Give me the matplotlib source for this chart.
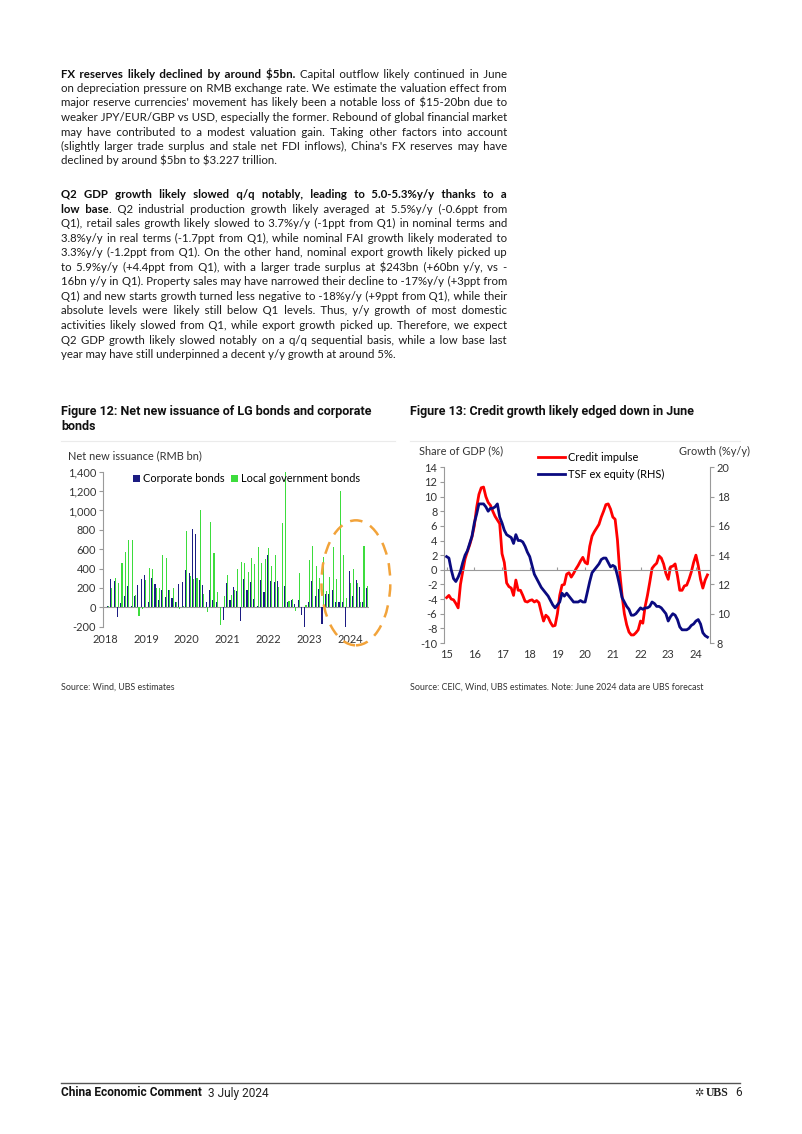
import numpy as np
import matplotlib
matplotlib.use('Agg')
import matplotlib.pyplot as plt
from matplotlib.patches import Ellipse
from matplotlib.ticker import FuncFormatter
from matplotlib.font_manager import FontProperties

plt.rcParams['axes.unicode_minus'] = False

W, H = 802, 1134

# Figure 12: net new issuance, RMB bn, monthly Jan 2018 - May 2024
corporate_bonds = [17, 288, 271, -98, 47, 115, 220, 17, 112, 227, 288, 335,
                   50, 300, 240, 80, 180, 110, 180, 100, 60, 240, 260, 390,
                   350, 810, 760, 280, 230, 50, 180, 80, 50, 0, -130, 250,
                   80, 210, 170, -140, 290, 180, 260, 90, 10, 280, 160, 540,
                   270, 260, 270, 0, 220, 60, 80, 30, 80, -80, -210, 60,
                   270, 120, 190, -170, 140, 140, 180, 60, 60, 60, -210, 380,
                   120, 280, 210, 60, 200]
lg_bonds = [10, 195, 300, 255, 460, 575, 695, 700, 130, -85, -20, 280,
            405, 395, 200, 200, 540, 510, 180, 200, 50, -20, 10, 790,
            320, 290, 300, 1000, 140, -50, 880, 560, 160, -180, 120, 330,
            130, 180, 400, 470, 460, 360, 510, 450, 620, 460, 500, 610,
            430, 540, 210, 870, 1400, 70, 90, -40, 350, 0, 20, 490,
            630, 430, 300, 520, 170, 310, 620, 290, 1200, 540, 100, 250,
            400, 250, 50, 630, 220]
bond_years = ['2018', '2019', '2020', '2021', '2022', '2023', '2024']

# Figure 13: monthly Jan 2015 - Jun 2024
credit_impulse = [-3.8, -3.5, -4.0, -4.1, -4.6, -5.2, -2.0, -0.2, 1.5, 2.5, 3.4, 4.5,
                  6.0, 8.5, 10.3, 11.2, 11.3, 10.0, 9.2, 8.8, 8.0, 7.3, 6.8, 6.3,
                  2.2, 1.0, -1.8, -2.3, -2.5, -3.5, -1.4, -2.8, -2.8, -3.5, -4.3, -4.4,
                  -4.2, -4.1, -4.4, -4.2, -4.5, -5.8, -7.0, -6.2, -6.5, -7.2, -7.7, -7.6,
                  -6.0, -3.5, -2.1, -2.0, -0.6, -0.4, -1.0, -0.5, 0.1, 0.6, 1.2, 1.7,
                  1.0, 0.8, 3.2, 4.6, 5.2, 5.7, 6.2, 7.2, 8.0, 8.9, 9.0, 8.3,
                  7.2, 6.9, 4.1, -0.3, -3.5, -6.0, -7.5, -8.5, -8.9, -8.9, -8.6, -8.2,
                  -7.0, -7.3, -5.0, -3.5, -1.7, 0.2, 0.6, 0.9, 1.9, 1.6, 0.8, -0.5,
                  -1.3, 0.4, 0.5, 0.8, -0.8, -2.8, -2.8, -2.2, -2.1, -1.3, -0.3, 1.0,
                  2.0, 0.6, -1.3, -2.5, -1.4, -0.7]
tsf_ex_equity = [13.9, 13.8, 13.0, 12.4, 12.2, 12.5, 12.9, 13.5, 14.0, 14.3, 14.8, 15.3,
                 16.2, 16.8, 17.5, 17.5, 17.5, 17.3, 17.0, 17.2, 17.2, 17.3, 17.5, 16.6,
                 16.2, 15.7, 15.4, 15.3, 15.2, 14.8, 15.4, 15.0, 15.0, 14.9, 14.6, 14.2,
                 13.9, 13.3, 12.7, 12.4, 12.1, 11.8, 11.6, 11.4, 11.2, 10.9, 10.6, 10.4,
                 10.6, 10.8, 11.4, 11.2, 11.4, 11.2, 11.0, 10.8, 10.8, 10.8, 10.9, 10.8,
                 10.8, 11.5, 12.2, 12.8, 13.0, 13.2, 13.4, 13.7, 13.8, 13.8, 13.5, 13.2,
                 13.3, 13.2, 12.6, 11.9, 11.1, 10.8, 10.5, 10.3, 9.9, 9.9, 10.0, 10.2,
                 10.4, 10.3, 10.4, 10.4, 10.5, 10.8, 10.7, 10.5, 10.5, 10.4, 10.2, 10.0,
                 9.5, 9.8, 10.0, 9.9, 9.6, 9.1, 8.9, 8.9, 8.9, 9.0, 9.2, 9.3,
                 9.5, 9.6, 9.3, 8.7, 8.5, 8.4]
credit_years = ['15', '16', '17', '18', '19', '20', '21', '22', '23', '24']

para1 = [
    "**FX reserves likely declined by around $5bn.** Capital outflow likely continued in June",
    "on depreciation pressure on RMB exchange rate. We estimate the valuation effect from",
    "major reserve currencies' movement has likely been a notable loss of $15-20bn due to",
    "weaker JPY/EUR/GBP vs USD, especially the former. Rebound of global financial market",
    "may have contributed to a modest valuation gain. Taking other factors into account",
    "(slightly larger trade surplus and stale net FDI inflows), China's FX reserves may have",
    "declined by around $5bn to $3.227 trillion.",
]
para2 = [
    "**Q2 GDP growth likely slowed q/q notably, leading to 5.0-5.3%y/y thanks to a",
    "low base**. Q2 industrial production growth likely averaged at 5.5%y/y (-0.6ppt from",
    "Q1), retail sales growth likely slowed to 3.7%y/y (-1ppt from Q1) in nominal terms and",
    "3.8%y/y in real terms (-1.7ppt from Q1), while nominal FAI growth likely moderated to",
    "3.3%y/y (-1.2ppt from Q1). On the other hand, nominal export growth likely picked up",
    "to 5.9%y/y (+4.4ppt from Q1), with a larger trade surplus at $243bn (+60bn y/y, vs -",
    "16bn y/y in Q1). Property sales may have narrowed their decline to -17%y/y (+3ppt from",
    "Q1) and new starts growth turned less negative to -18%y/y (+9ppt from Q1), while their",
    "absolute levels were likely still below Q1 levels. Thus, y/y growth of most domestic",
    "activities likely slowed from Q1, while export growth picked up. Therefore, we expect",
    "Q2 GDP growth likely slowed notably on a q/q sequential basis, while a low base last",
    "year may have still underpinned a decent y/y growth at around 5%.",
]

BODY = 'Lato'
FAM = ['Lato', 'DejaVu Sans']
COND = 'Roboto'
TXT = '#1c1c1c'
GREY = '#9a9a9a'
NAVY = '#1c1c82'
GREEN = '#3ddc3d'
HAIR = '\u200a'

fig = plt.figure(figsize=(W / 100, H / 100), dpi=100)
rend = fig.canvas.get_renderer()


def fx(x):
    return x / W


def fy(y):
    return 1 - y / H


def fprop(size, bold, family=FAM):
    return FontProperties(family=family, size=size, weight='bold' if bold else 'normal')


def measure(s, size, bold, family=FAM):
    w, h, d = rend.get_text_width_height_descent(s, fprop(size, bold, family), ismath=False)
    return w


def parse(line, bold):
    words = []
    for tok in line.split(' '):
        parts = tok.split('**')
        pieces = []
        for i, p in enumerate(parts):
            if i > 0:
                bold = not bold
            if p:
                pieces.append((p, bold))
        words.append(pieces)
    return words, bold


def gap_string(need, sw, hw):
    # a normal space plus hair spaces, as close as possible to the wanted width
    if need >= sw:
        k = max(0, int(round((need - sw) / hw)))
        return ' ' + HAIR * k, sw + k * hw
    k = max(1, int(round(need / hw)))
    return HAIR * k, k * hw


def paragraph(lines, x0, x1, y0, step, size):
    bold = False
    parsed = []
    for ln in lines:
        words, bold = parse(ln, bold)
        parsed.append(words)
    sw0 = measure('a a', size, False) - measure('aa', size, False)
    widest = 0
    for words in parsed[:-1]:
        tot = sum(measure(p, size, b) for w in words for p, b in w) + sw0 * (len(words) - 1)
        widest = max(widest, tot)
    if widest > (x1 - x0):
        size = size * (x1 - x0) / widest
    sp = {}
    for b in (False, True):
        sw = measure('a a', size, b) - measure('aa', size, b)
        hw = measure('a' + HAIR * 10 + 'a', size, b) - measure('aa', size, b)
        sp[b] = (sw, max(hw / 10, 0.3))
    for k, words in enumerate(parsed):
        widths = [[measure(p, size, b) for p, b in w] for w in words]
        total = sum(sum(ws) for ws in widths)
        if k == len(parsed) - 1:
            gap = sp[False][0]
        else:
            gap = (x1 - x0 - total) / (len(words) - 1)
        base = round(y0 + k * step + 4.0)
        runs = []
        x = x0
        for w, ws in zip(words, widths):
            for pi, ((p, b), pw) in enumerate(zip(w, ws)):
                if runs and runs[-1]['bold'] == b:
                    run = runs[-1]
                    if pi == 0:
                        need = (x - run['x']) - run['w']
                        gs, gw = gap_string(need, *sp[b])
                        run['s'] += gs
                        run['w'] += gw
                    run['s'] += p
                    run['w'] += pw
                else:
                    runs.append({'bold': b, 'x': x, 's': p, 'w': pw})
                x += pw
            x += gap
        for run in runs:
            fig.text(fx(run['x']), fy(base), run['s'], fontsize=size, family=FAM,
                     weight='bold' if run['bold'] else 'normal', parse_math=False,
                     color='#0d0d0d' if run['bold'] else TXT, va='baseline', ha='left')


paragraph(para1, 61, 507, 73.5, 14.5, 8.8)
paragraph(para2, 61, 507, 194, 14.55, 8.8)

# captions
cap = dict(fontsize=9.0, family=COND, weight='bold', color='#111111', va='center')
fig.text(fx(61), fy(412), 'Figure 12: Net new issuance of LG bonds and corporate', **cap)
fig.text(fx(61), fy(427), 'bonds', **cap)
fig.text(fx(410), fy(412), 'Figure 13: Credit growth likely edged down in June', **cap)
fig.add_artist(plt.Line2D([fx(61), fx(395)], [fy(441), fy(441)], color='#ebebeb', lw=0.8))
fig.add_artist(plt.Line2D([fx(410), fx(740)], [fy(441), fy(441)], color='#ebebeb', lw=0.8))

LBL = 7.9

# ---- Figure 12 ----
ax1 = fig.add_axes([fx(103), fy(626.7), (368.5 - 103) / W, (626.7 - 471.7) / H])
idx = np.arange(len(corporate_bonds))
ax1.bar(idx + 0.65, corporate_bonds, width=0.32, color=NAVY, label='Corporate bonds', zorder=3)
ax1.bar(idx + 0.97, lg_bonds, width=0.32, color=GREEN, label='Local government bonds', zorder=2)
ax1.axhline(0, color=GREY, lw=0.8, zorder=1)
ax1.set_xlim(-0.6, 77.3)
ax1.set_ylim(-200, 1400)
ax1.set_yticks(np.arange(-200, 1401, 200))
ax1.yaxis.set_major_formatter(FuncFormatter(lambda v, p: f'{v:,.0f}'))
ax1.set_xticks(np.arange(len(bond_years)) * 12, bond_years)
for s in ['top', 'right', 'bottom']:
    ax1.spines[s].set_visible(False)
ax1.spines['left'].set_color(GREY)
ax1.tick_params(axis='y', length=3, color=GREY, labelsize=LBL, labelcolor='#333333', pad=2)
ax1.tick_params(axis='x', length=0, labelsize=LBL, labelcolor='#333333', pad=5)
for t in ax1.get_xticklabels() + ax1.get_yticklabels():
    t.set_family(BODY)
ax1.patch.set_visible(False)
ax1.legend(loc='upper left', bbox_to_anchor=(fx(133), fy(473)), bbox_transform=fig.transFigure,
           ncol=2, frameon=False, prop={'family': BODY, 'size': LBL}, handlelength=0.6,
           handleheight=0.6, handletextpad=0.3, columnspacing=0.6, borderaxespad=0, borderpad=0)
ax1.add_patch(Ellipse((73.6, 253), 20.2, 1290, fill=False, ec='#f2a33a', lw=1.8,
                      ls=(0, (5, 3.5)), clip_on=False, zorder=5))
fig.text(fx(68), fy(456), 'Net new issuance (RMB bn)', fontsize=LBL, family=BODY,
         color='#333333', va='center')

# ---- Figure 13 ----
ax2 = fig.add_axes([fx(444.3), fy(643), (710 - 444.3) / W, (643 - 467.3) / H])
m = np.arange(len(credit_impulse))
l1, = ax2.plot(m, credit_impulse, color='#ff0000', lw=2.0, label='Credit impulse')
ax3 = ax2.twinx()
l2, = ax3.plot(m, tsf_ex_equity, color='#0a0a80', lw=2.0, label='TSF ex equity (RHS)')
ax2.set_xlim(-1, 114.1)
ax2.set_ylim(-10, 14)
ax3.set_ylim(8, 20)
ax2.set_yticks(np.arange(-10, 15, 2))
ax3.set_yticks(np.arange(8, 21, 2))
yt = np.arange(len(credit_years)) * 12
ax2.set_xticks(yt)
ax2.spines['bottom'].set_position(('data', 0))
ax2.spines['bottom'].set_color(GREY)
ax2.tick_params(axis='x', direction='in', length=2.5, color=GREY, labelbottom=False)
sec = ax2.secondary_xaxis('bottom')
sec.set_xticks(yt, credit_years)
sec.spines['bottom'].set_visible(False)
sec.tick_params(length=0, labelsize=LBL, labelcolor='#333333', pad=4)
for s in ['top', 'right']:
    ax2.spines[s].set_visible(False)
for s in ['top', 'left', 'bottom']:
    ax3.spines[s].set_visible(False)
ax2.spines['left'].set_color(GREY)
ax3.spines['right'].set_color(GREY)
ax2.tick_params(axis='y', length=3, color=GREY, labelsize=LBL, labelcolor='#333333', pad=2)
ax3.tick_params(axis='y', length=3, color=GREY, labelsize=LBL, labelcolor='#333333', pad=2)
for t in ax2.get_yticklabels() + ax3.get_yticklabels() + sec.get_xticklabels():
    t.set_family(BODY)
ax2.patch.set_visible(False)
ax3.legend(handles=[l1, l2], loc='upper left', bbox_to_anchor=(fx(538), fy(452)),
           bbox_transform=fig.transFigure, frameon=False, prop={'family': BODY, 'size': LBL},
           handlelength=2.5, handletextpad=0.2, labelspacing=0.5, borderaxespad=0, borderpad=0)
fig.text(fx(419), fy(451), 'Share of GDP (%)', fontsize=LBL, family=BODY, color='#333333', va='center')
fig.text(fx(750), fy(451), 'Growth (%y/y)', fontsize=LBL, family=BODY, color='#333333',
         va='center', ha='right')

# sources
src = dict(fontsize=6.4, family=BODY, color='#333333', va='center')
fig.text(fx(61), fy(687), 'Source: Wind, UBS estimates', **src)
fig.text(fx(410), fy(687), 'Source: CEIC, Wind, UBS estimates. Note: June 2024 data are UBS forecast', **src)

# footer
fig.add_artist(plt.Line2D([fx(61), fx(740)], [fy(1083), fy(1083)], color='#555555', lw=1.0))
ftxt = 'China Economic Comment'
fig.text(fx(61), fy(1093), ftxt, fontsize=8.6, family=COND, weight='bold',
         color='#111111', va='center')
wft = measure(ftxt, 8.6, True, COND)
fig.text(fx(61 + wft + 6), fy(1093), '3 July 2024', fontsize=8.6, family=COND,
         color='#222222', va='center')
fig.text(fx(704), fy(1093), '\u2732', fontsize=8, family='DejaVu Sans', color='#333333',
         va='center', ha='right')
fig.text(fx(706), fy(1093), 'UBS', fontsize=8.5, family='Liberation Serif', weight='bold',
         color='#222222', va='center')
fig.text(fx(735), fy(1093), '6', fontsize=8.6, family=COND, color='#222222', va='center')

fig.savefig('out.png', dpi=100)
